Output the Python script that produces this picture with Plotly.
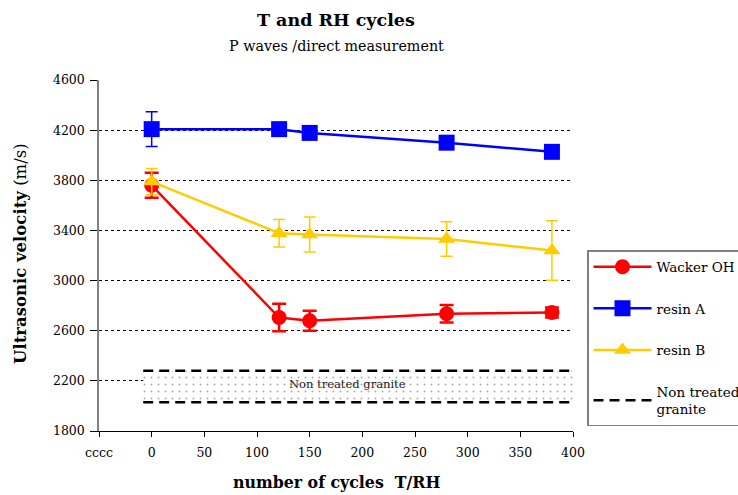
import plotly.graph_objects as go

cycles = [0, 121, 150, 280, 380]
wacker = [3760, 2705, 2680, 2735, 2745]
wacker_err = [100, 110, 80, 70, 40]
resinA = [4208, 4208, 4178, 4100, 4027]
resinA_err = [138, 0, 0, 0, 0]
resinB = [3790, 3378, 3368, 3332, 3240]
resinB_err = [105, 110, 140, 137, 238]

band_x = [-8, 400]
band_upper = 2280
band_lower = 2030
band_label = "Non treated granite"

xtick_vals = [-50, 0, 50, 100, 150, 200, 250, 300, 350, 400]
xtick_text = ["cccc", "0", "50", "100", "150", "200", "250", "300", "350", "400"]

SERIF = "DejaVu Serif"

fig = go.Figure()

fig.add_trace(go.Scatter(
    x=cycles, y=wacker, name="Wacker OH", mode="lines+markers", legendgroup="g1",
    line=dict(color="#FF0000", width=2.5),
    marker=dict(symbol="circle", size=15, color="#FF0000"),
    error_y=dict(type="data", array=wacker_err, color="#FF0000", thickness=2.5, width=7),
))
fig.add_trace(go.Scatter(
    x=cycles, y=resinA, name="resin A", mode="lines+markers", legendgroup="g2",
    line=dict(color="#0000FF", width=2.5),
    marker=dict(symbol="square", size=16, color="#0000FF"),
    error_y=dict(type="data", array=resinA_err, color="#0000FF", thickness=1.5, width=6),
))
fig.add_trace(go.Scatter(
    x=cycles, y=resinB, name="resin B", mode="lines+markers", legendgroup="g3",
    line=dict(color="#FFCC00", width=2.5),
    marker=dict(symbol="triangle-up", size=15, color="#FFCC00"),
    error_y=dict(type="data", array=resinB_err, color="#FFCC00", thickness=1.5, width=6),
))

# band fill (dotted)
fig.add_trace(go.Scatter(
    x=[band_x[0], band_x[1], band_x[1], band_x[0], band_x[0]],
    y=[band_upper, band_upper, band_lower, band_lower, band_upper],
    fill="toself", mode="none", showlegend=False, hoverinfo="skip",
    fillcolor="rgba(0,0,0,0)",
    fillpattern=dict(shape=".", fgcolor="#555555", bgcolor="white", size=7, solidity=0.06),
))
fig.add_trace(go.Scatter(
    x=band_x, y=[band_upper, band_upper], mode="lines", showlegend=False,
    line=dict(color="black", width=2.5, dash="10px,6px"), legendgroup="g4",
))
fig.add_trace(go.Scatter(
    x=band_x, y=[band_lower, band_lower], mode="lines",
    name="Non treated<br>granite", legendgroup="g4",
    line=dict(color="black", width=2.5, dash="10px,6px"),
))

fig.add_annotation(x=186, y=2176, xref="x", yref="y", text=band_label, showarrow=False,
                   font=dict(family=SERIF, size=11.5, color="#222"))

fig.add_annotation(x=0.5, y=(431 - 20) / 351, xref="paper", yref="paper", showarrow=False,
                   text="<b>T and RH cycles</b>", font=dict(family=SERIF, size=17.5, color="black"),
                   xanchor="center", yanchor="middle")
fig.add_annotation(x=0.5, y=(431 - 46) / 351, xref="paper", yref="paper", showarrow=False,
                   text="P waves /direct measurement", font=dict(family=SERIF, size=14.3, color="black"),
                   xanchor="center", yanchor="middle")
fig.add_annotation(x=(20 - 99) / 474, y=(431 - 254) / 351, xref="paper", yref="paper", showarrow=False,
                   text="<b>Ultrasonic velocity</b> (m/s)", textangle=-90,
                   font=dict(family=SERIF, size=16.5, color="black"),
                   xanchor="center", yanchor="middle")
fig.add_annotation(x=0.5, y=(431 - 482) / 351, xref="paper", yref="paper", showarrow=False,
                   text="<b>number of cycles  T/RH</b>", font=dict(family=SERIF, size=15.8, color="black"),
                   xanchor="center", yanchor="middle")

fig.update_layout(
    width=738, height=495,
    margin=dict(l=99, r=165, t=80, b=64, autoexpand=False),
    paper_bgcolor="white", plot_bgcolor="white",
    font=dict(family=SERIF, size=13, color="black"),
    legend=dict(
        x=(587 - 99) / 474, y=(431 - 250) / 351, xanchor="left", yanchor="top",
        bordercolor="#808080", borderwidth=1.5, bgcolor="white",
        font=dict(family=SERIF, size=13.5, color="black"),
        itemwidth=58, tracegroupgap=21, traceorder="grouped",
    ),
    xaxis=dict(
        range=[-50, 400], tickvals=xtick_vals, ticktext=xtick_text,
        showgrid=False, zeroline=False, showline=True, linecolor="black", linewidth=1,
        ticks="outside", ticklen=5, tickcolor="black", ticklabelstandoff=5,
        tickfont=dict(family=SERIF, size=12.5, color="black"),
    ),
    yaxis=dict(
        range=[1800, 4600], dtick=400, tick0=1800,
        showgrid=True, gridcolor="black", gridwidth=1, griddash="3px,3px",
        zeroline=False, showline=True, linecolor="#808080", linewidth=1.5,
        ticks="outside", ticklen=7, tickcolor="black", ticklabelstandoff=3,
        tickfont=dict(family=SERIF, size=12.5, color="black"),
    ),
)

fig.write_html("out.html")
